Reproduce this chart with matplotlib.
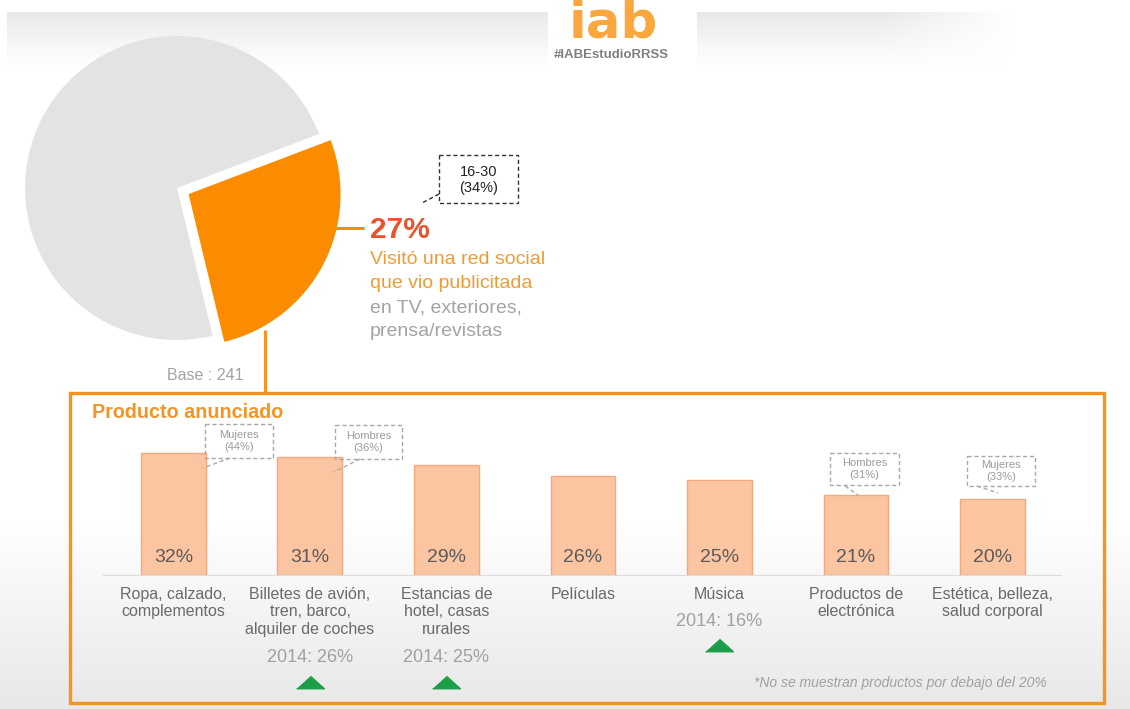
import matplotlib.pyplot as plt
import numpy as np
from matplotlib import transforms
from matplotlib.patches import Rectangle

plt.rcParams['font.family'] = ['Liberation Sans', 'DejaVu Sans']

# datos
pie_valores = [27, 73]
base_total = 241
productos = [
    "Ropa, calzado,\ncomplementos",
    "Billetes de avión,\ntren, barco,\nalquiler de coches",
    "Estancias de\nhotel, casas\nrurales",
    "Películas",
    "Música",
    "Productos de\nelectrónica",
    "Estética, belleza,\nsalud corporal",
]
porcentajes = [32, 31, 29, 26, 25, 21, 20]
previo_2014 = [None, 26, 25, None, 16, None, None]
perfil_texto = ["Mujeres\n(44%)", "Hombres\n(36%)", None, None, None, "Hombres\n(31%)", "Mujeres\n(33%)"]

W, H = 1130, 709
NARANJA = '#fb8c00'
GRIS_TXT = '#a3a3a3'

fig = plt.figure(figsize=(W / 100, H / 100), dpi=100)


def px(x, y, w, h):
    # caja en pixeles (origen arriba a la izquierda) -> fraccion de figura
    return [x / W, 1 - (y + h) / H, w / W, h / H]


# fondo: banda gris arriba y degradado abajo
bg = fig.add_axes([0, 0, 1, 1], zorder=0)
bg.set_xlim(0, W)
bg.set_ylim(H, 0)
bg.axis('off')

banda = np.zeros((60, W, 4))
banda[..., :3] = 0.91
alpha_v = np.linspace(1, 0, 60) ** 1.3
cols = np.arange(W)
alpha_h = np.clip((1010 - cols) / 130, 0, 1)
alpha_h[(cols < 7) | ((cols > 547) & (cols < 697))] = 0
banda[..., 3] = alpha_v[:, None] * alpha_h[None, :]
bg.imshow(banda, extent=(0, W, 72, 12), aspect='auto', interpolation='bilinear')

suelo = np.zeros((120, 2, 4))
suelo[..., :3] = 0.91
suelo[..., 3] = np.linspace(0, 1, 120)[:, None]
bg.imshow(suelo, extent=(0, W, H, 520), aspect='auto', interpolation='bilinear')

# titulo de la diapositiva, casi fuera del borde superior
fig.text(115 / W, 1 + 0.5 / H, "Publicidad sobre RRSS", fontsize=24, color='#555555', va='baseline')

# tarta
pax = fig.add_axes(px(177 - 152, 188 - 152, 304, 304), zorder=2)
wedges, _ = pax.pie(pie_valores, colors=[NARANJA, '#e3e3e3'], startangle=-76.4,
                    counterclock=True, explode=[0.086, 0], radius=1,
                    wedgeprops=dict(linewidth=0))
pax.set_xlim(-1, 1)
pax.set_ylim(-1, 1)
for w in wedges:
    w.set_clip_on(False)

# barras
bax = fig.add_axes(px(102.5, 423, 958.25, 152), zorder=3)
x = np.arange(len(productos))
bax.bar(x, porcentajes, width=0.476, color='#fcc5a2', edgecolor='#f2a97c', linewidth=1)
bax.set_xlim(-0.52, 6.5)
bax.set_ylim(0, 40)
bax.patch.set_alpha(0)
for s in ['top', 'right', 'left']:
    bax.spines[s].set_visible(False)
bax.spines['bottom'].set_color('#dcdcdc')
bax.set_yticks([])
bax.set_xticks(x, productos, fontsize=11.5, color='#6a6a6a', linespacing=1.2)
bax.tick_params(axis='x', length=0, pad=8.5)

for i, v in enumerate(porcentajes):
    bax.annotate(f"{v}%", xy=(i, 0), xytext=(0, 18), textcoords='offset pixels',
                 ha='center', va='center', fontsize=14, color='#5a5a5a')

trans = transforms.blended_transform_factory(bax.transData, bax.transAxes)
triangulo = [(-1, -0.45), (1, -0.45), (0, 0.45)]
for i, prev in enumerate(previo_2014):
    if prev is None:
        continue
    n = productos[i].count('\n') + 1
    dy = 21 + (n - 1) * 18.5 + 25
    bax.annotate(f"2014: {prev}%", xy=(i, 0), xycoords=trans, xytext=(0, -dy),
                 textcoords='offset pixels', ha='center', va='center',
                 fontsize=13, color='#a0a0a0')
    tri_t = transforms.offset_copy(trans, fig=fig, x=0, y=-(dy + 24), units='dots')
    bax.plot([i], [0], transform=tri_t, marker=triangulo, markersize=20,
             color='#1c9e48', ls='none', clip_on=False)

# capa superior: textos, caja y llamadas
fg = fig.add_axes([0, 0, 1, 1], zorder=4)
fg.set_xlim(0, W)
fg.set_ylim(H, 0)
fg.axis('off')

fg.text(613, 37, "iab", fontsize=37, fontweight='bold', family='DejaVu Sans',
        color='#f9a73e', ha='center', va='baseline')
fg.text(611, 55, "#IABEstudioRRSS", fontsize=9.5, fontweight='bold',
        color='#808080', ha='center', va='center')

fg.plot([326, 364], [228, 228], color=NARANJA, lw=2.2, solid_capstyle='butt')
fg.plot([265, 265], [330, 393], color='#f7941d', lw=2.2, solid_capstyle='butt')
fg.add_patch(Rectangle((70, 393), 1034, 310, fill=False, ec='#f7941d', lw=2.4))

fg.text(370, 230, f"{pie_valores[0]}%", fontsize=21.5, fontweight='bold',
        color='#e9532b', va='center')
lineas = [("Visitó una red social", '#f29b30'), ("que vio publicitada", '#f29b30'),
          ("en TV, exteriores,", GRIS_TXT), ("prensa/revistas", GRIS_TXT)]
for k, (t, c) in enumerate(lineas):
    fg.text(370, 260 + k * 24, t, fontsize=14, color=c, va='center')

fg.text(167, 375, f"Base : {base_total}", fontsize=11.5, color=GRIS_TXT, va='center')
fg.text(92, 412, "Producto anunciado", fontsize=14.2, fontweight='bold',
        color='#f39424', va='center')
fg.text(1047, 683, "*No se muestran productos por debajo del 20%", fontsize=10,
        style='italic', color='#a0a0a0', ha='right', va='center')

# llamada edad 16-30
fg.add_patch(Rectangle((439, 155), 79, 48, fill=False, ec='#333333', lw=1, ls=(0, (3, 2))))
fg.plot([439, 422], [194, 203], color='#333333', lw=1, ls=(0, (3, 2)))
fg.text(478.5, 180, "16-30\n(34%)", fontsize=10.5, color='#222222',
        ha='center', va='center', linespacing=1.25)

# llamadas por sexo sobre las barras: caja (x, y, w, h) y cola
cajas = {0: ((205, 424, 68, 34), (230, 458), (203, 468)),
         1: ((335, 425, 67, 34), (360, 459), (334, 472)),
         5: ((830, 453, 69, 32), (845, 486), (858, 495)),
         6: ((967, 456, 68, 30), (977, 486), (998, 493))}
for i, ((cx, cy, cw, ch), p0, p1) in cajas.items():
    fg.add_patch(Rectangle((cx, cy), cw, ch, fill=False, ec='#a8a8a8', lw=1, ls=(0, (3, 2))))
    fg.plot([p0[0], p1[0]], [p0[1], p1[1]], color='#a8a8a8', lw=1, ls=(0, (3, 2)))
    fg.text(cx + cw / 2, cy + ch / 2, perfil_texto[i], fontsize=8, color='#9a9a9a',
            ha='center', va='center', linespacing=1.2)

fig.savefig('out.png', dpi=100)
